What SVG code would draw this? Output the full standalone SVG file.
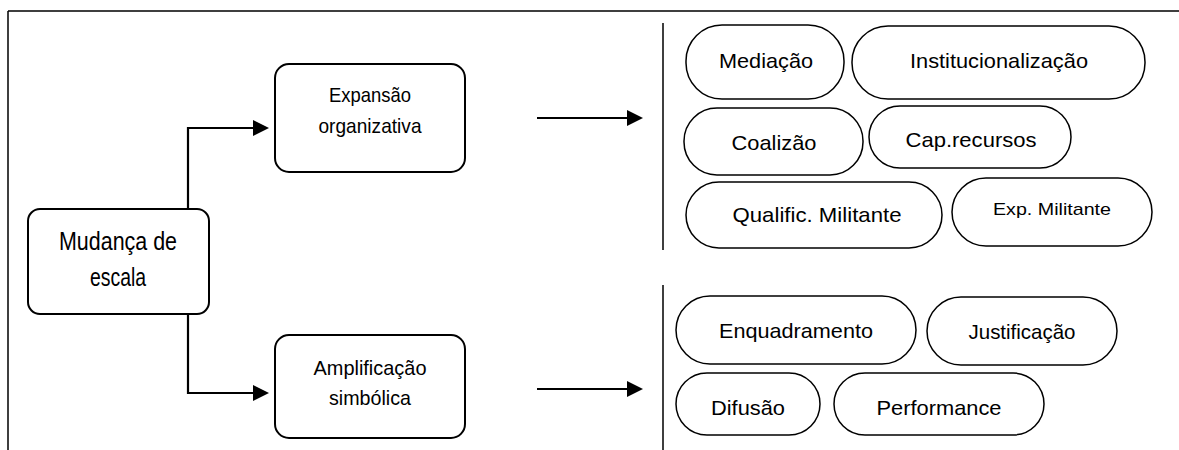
<svg xmlns="http://www.w3.org/2000/svg" width="1179" height="450" viewBox="0 0 1179 450">
<style>
.frame{fill:none;stroke:#000;stroke-width:1.5}
.box{fill:#fff;stroke:#000;stroke-width:2}
.pill{fill:#fff;stroke:#000;stroke-width:1.5}
.conn{fill:none;stroke:#000;stroke-width:2.2}
.div{fill:none;stroke:#000;stroke-width:1.5}
text{font-family:"Liberation Sans",Arial,sans-serif;fill:#000;text-anchor:middle}
.t25{font-size:25px}
.tb{font-size:21px}
.t21{font-size:21px}
.t17{font-size:17px}
</style>
<defs>
<marker id="arr" viewBox="0 0 16 16" refX="0" refY="8" markerWidth="16" markerHeight="16" markerUnits="userSpaceOnUse" orient="auto">
<path d="M0,0 L16,8 L0,16 z" fill="#000"/>
</marker>
</defs>
<rect width="1179" height="450" fill="#fff"/>
<g id="frame">
<path class="frame" d="M8,11 H1179 M8,11 V450"/>
<path class="div" d="M663,23 V250 M663,285 V450"/>
</g>
<g id="n-mudanca">
<rect class="box" x="28" y="209" width="181" height="105" rx="12"/>
<text class="t25" x="118" y="250" textLength="118" lengthAdjust="spacingAndGlyphs">Mudança de</text>
<text class="t25" x="118" y="286" textLength="56" lengthAdjust="spacingAndGlyphs">escala</text>
</g>
<g id="n-expansao">
<rect class="box" x="275" y="64" width="190" height="108" rx="14"/>
<text class="tb" x="370" y="102" textLength="82" lengthAdjust="spacingAndGlyphs">Expansão</text>
<text class="tb" x="370" y="133" textLength="103" lengthAdjust="spacingAndGlyphs">organizativa</text>
</g>
<g id="n-amplificacao">
<rect class="box" x="275" y="335" width="190" height="103" rx="14"/>
<text class="tb" x="370" y="375" textLength="113" lengthAdjust="spacingAndGlyphs">Amplificação</text>
<text class="tb" x="370" y="405" textLength="82" lengthAdjust="spacingAndGlyphs">simbólica</text>
</g>
<g id="connectors">
<path class="conn" d="M110,209 H188 V128 H253" marker-end="url(#arr)"/>
<path class="conn" d="M103,314 H188 V393 H253" marker-end="url(#arr)"/>
<path class="conn" d="M537,118 H627" marker-end="url(#arr)"/>
<path class="conn" d="M537,389 H627" marker-end="url(#arr)"/>
</g>
<g id="n-mediacao">
<rect class="pill" x="686" y="25" width="158" height="74" rx="36"/>
<text class="t21" x="766" y="68" textLength="94" lengthAdjust="spacingAndGlyphs">Mediação</text>
</g>
<g id="n-institucionalizacao">
<rect class="pill" x="852" y="26" width="293" height="73" rx="36"/>
<text class="t21" x="999" y="68" textLength="178" lengthAdjust="spacingAndGlyphs">Institucionalização</text>
</g>
<g id="n-coalizao">
<rect class="pill" x="684" y="108" width="179" height="67" rx="33"/>
<text class="t21" x="774" y="150" textLength="85" lengthAdjust="spacingAndGlyphs">Coalizão</text>
</g>
<g id="n-caprecursos">
<rect class="pill" x="869" y="106" width="202" height="62" rx="31"/>
<text class="t21" x="971" y="147" textLength="131" lengthAdjust="spacingAndGlyphs">Cap.recursos</text>
</g>
<g id="n-qualific">
<rect class="pill" x="686" y="182" width="256" height="66" rx="33"/>
<text class="t21" x="817" y="222" textLength="169" lengthAdjust="spacingAndGlyphs">Qualific. Militante</text>
</g>
<g id="n-expmilitante">
<rect class="pill" x="952" y="178" width="200" height="68" rx="34"/>
<text class="t17" x="1052" y="215" textLength="118" lengthAdjust="spacingAndGlyphs">Exp. Militante</text>
</g>
<g id="n-enquadramento">
<rect class="pill" x="676" y="296" width="240" height="68" rx="34"/>
<text class="t21" x="796" y="338" textLength="154" lengthAdjust="spacingAndGlyphs">Enquadramento</text>
</g>
<g id="n-justificacao">
<rect class="pill" x="927" y="297" width="190" height="68" rx="34"/>
<text class="t21" x="1022" y="339" textLength="107" lengthAdjust="spacingAndGlyphs">Justificação</text>
</g>
<g id="n-difusao">
<rect class="pill" x="676" y="373" width="144" height="62" rx="31"/>
<text class="t21" x="748" y="415" textLength="74" lengthAdjust="spacingAndGlyphs">Difusão</text>
</g>
<g id="n-performance">
<rect class="pill" x="834" y="373" width="210" height="62" rx="31"/>
<text class="t21" x="939" y="415" textLength="125" lengthAdjust="spacingAndGlyphs">Performance</text>
</g>
</svg>
